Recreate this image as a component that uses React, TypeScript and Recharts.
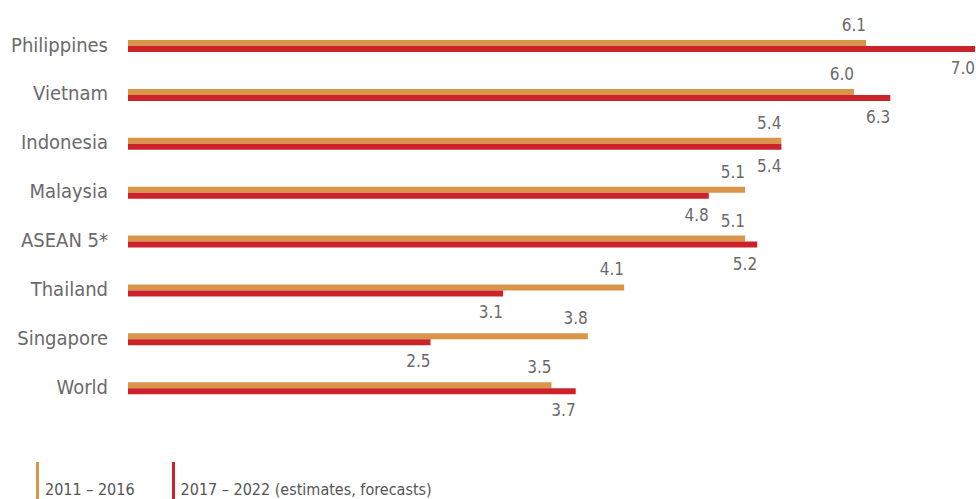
import { BarChart, Bar, XAxis, YAxis, LabelList } from "recharts";

const countries = ["Philippines", "Vietnam", "Indonesia", "Malaysia", "ASEAN 5*", "Thailand", "Singapore", "World"];
const growth2011 = [6.1, 6.0, 5.4, 5.1, 5.1, 4.1, 3.8, 3.5];
const growth2017 = [7.0, 6.3, 5.4, 4.8, 5.2, 3.1, 2.5, 3.7];
const seriesNames = ["2011 – 2016", "2017 – 2022 (estimates, forecasts)"];

const ORANGE = "#d9954a";
const RED = "#cc2229";
const GREY = "#6a6a6a";
const FONT = "'DejaVu Sans Condensed', 'Liberation Sans Narrow', sans-serif";

const data = countries.map((name, i) => ({
  name,
  early: growth2011[i],
  late: growth2017[i],
}));

const TopLabel = (props: any) => {
  const { x, y, width, value } = props;
  return (
    <text x={x + width} y={y - 9} textAnchor="end" fill={GREY} fontSize={17} fontFamily={FONT}>
      {value.toFixed(1)}
    </text>
  );
};

const BottomLabel = (props: any) => {
  const { x, y, width, height, value } = props;
  return (
    <text x={x + width} y={y + height + 22} textAnchor="end" fill={GREY} fontSize={17} fontFamily={FONT}>
      {value.toFixed(1)}
    </text>
  );
};

export default function App() {
  return (
    <div style={{ position: "absolute", left: 0, top: 0, width: 976, height: 499, background: "#fff" }}>
      <BarChart
        width={976}
        height={499}
        data={data}
        layout="vertical"
        margin={{ top: 22, right: 1, bottom: 86, left: 0 }}
        barGap={0}
        barCategoryGap={0}
      >
        <XAxis type="number" domain={[0, 7]} hide />
        <YAxis
          type="category"
          dataKey="name"
          width={128}
          axisLine={false}
          tickLine={false}
          tickSize={0}
          tickMargin={20}
          tick={{ fill: GREY, fontSize: 20, fontFamily: FONT, dy: -2 }}
        />
        <Bar dataKey="early" fill={ORANGE} barSize={6} isAnimationActive={false}>
          <LabelList dataKey="early" content={TopLabel} />
        </Bar>
        <Bar dataKey="late" fill={RED} barSize={6} isAnimationActive={false}>
          <LabelList dataKey="late" content={BottomLabel} />
        </Bar>
      </BarChart>
      <div style={{ position: "absolute", left: 36, top: 462, display: "flex", fontFamily: FONT, fontSize: 16, color: "#555" }}>
        {[ORANGE, RED].map((c, i) => (
          <div key={i} style={{ display: "flex", alignItems: "flex-end", marginRight: 37 }}>
            <div style={{ width: 3, height: 37, background: c, marginRight: 6 }} />
            <span style={{ lineHeight: "18px" }}>{seriesNames[i]}</span>
          </div>
        ))}
      </div>
    </div>
  );
}
